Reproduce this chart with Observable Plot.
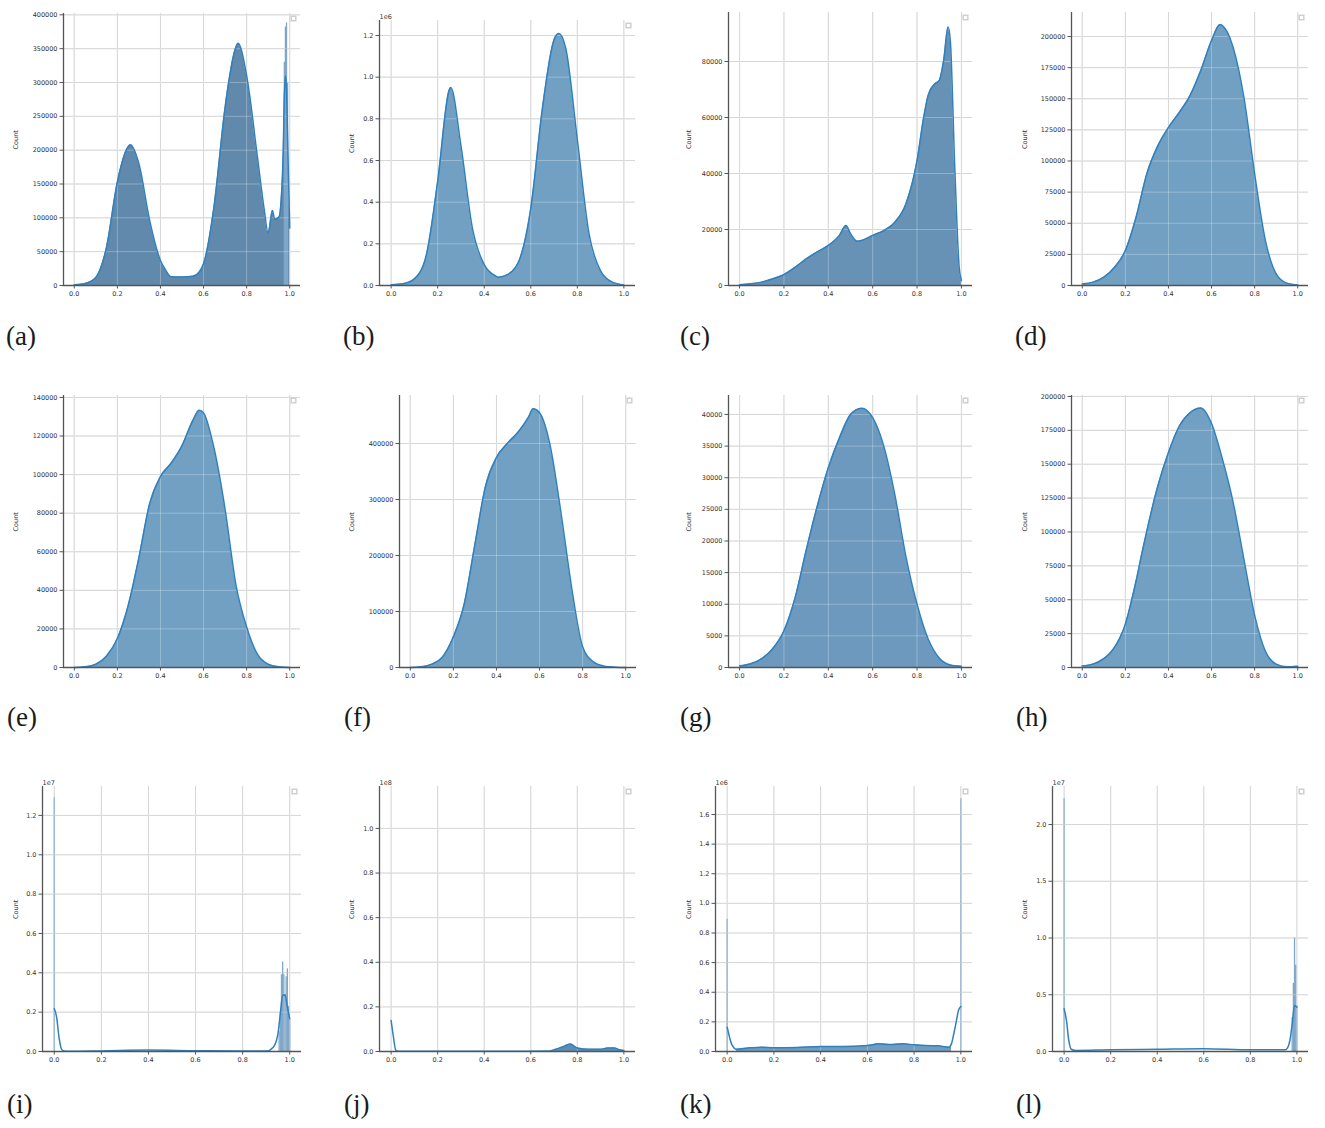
<!DOCTYPE html>
<html><head><meta charset="utf-8">
<script src="https://cdn.jsdelivr.net/npm/d3@7"></script>
<script src="https://cdn.jsdelivr.net/npm/@observablehq/plot@0.6"></script>
<style>
body{margin:0;background:#fff;}
#root{position:relative;width:1325px;height:1128px;overflow:hidden;background:#fff;}
.panel{position:absolute;}
.lab{position:absolute;font-family:"Liberation Serif","DejaVu Serif",serif;font-size:27px;line-height:27px;color:#1a1a1a;white-space:nowrap;}
</style></head><body><div id="root"></div>
<script>
// ---- shared x tick labels ----
const xTicks = [0, 0.2, 0.4, 0.6, 0.8, 1.0];

// ---- (a) ----
const aX = [0, 0.05, 0.1, 0.15, 0.2, 0.25, 0.26, 0.3, 0.35, 0.4, 0.42, 0.45, 0.5, 0.55, 0.58, 0.6, 0.65, 0.7, 0.75, 0.76, 0.8, 0.85, 0.88, 0.9, 0.92, 0.93, 0.95, 0.96, 0.97, 0.975, 0.98, 0.985, 0.99, 0.995, 1.0];
const aY = [1000, 3000, 12000, 57000, 153000, 205000, 208000, 180000, 96000, 37000, 25000, 13000, 12500, 13500, 20000, 32000, 120000, 263000, 352000, 358000, 310000, 190000, 116000, 78000, 111000, 98000, 101000, 125000, 200000, 280000, 310000, 290000, 220000, 150000, 85000];
const aSpikeX = [0.975, 0.98, 0.985, 0.99];
const aSpikeY = [330000, 382000, 388000, 300000];
const aTicks = [0, 50000, 100000, 150000, 200000, 250000, 300000, 350000, 400000];

// ---- (b) ----
const bX = [0, 0.05, 0.1, 0.15, 0.2, 0.25, 0.256, 0.3, 0.35, 0.4, 0.45, 0.46, 0.5, 0.55, 0.6, 0.65, 0.7, 0.72, 0.75, 0.8, 0.85, 0.9, 0.95, 1.0];
const bY = [3000, 8000, 32000, 140000, 500000, 940000, 950000, 670000, 270000, 100000, 45000, 40000, 52000, 120000, 370000, 850000, 1180000, 1210000, 1140000, 700000, 250000, 70000, 16000, 3000];
const bTicks = [0, 200000, 400000, 600000, 800000, 1000000, 1200000];

// ---- (c) ----
const cX = [0, 0.05, 0.1, 0.15, 0.2, 0.25, 0.3, 0.35, 0.4, 0.45, 0.48, 0.5, 0.53, 0.55, 0.6, 0.65, 0.7, 0.75, 0.8, 0.83, 0.85, 0.88, 0.9, 0.92, 0.94, 0.95, 0.97, 0.99, 1.0];
const cY = [300, 600, 1200, 2400, 3900, 6500, 9500, 12000, 14300, 17900, 21400, 18500, 15800, 16100, 17900, 19600, 22600, 29200, 44600, 60100, 67900, 72000, 73200, 80400, 92300, 87500, 42300, 6500, 1800];
const cTicks = [0, 20000, 40000, 60000, 80000];

// ---- (d) ----
const dX = [0, 0.05, 0.1, 0.15, 0.2, 0.25, 0.3, 0.35, 0.4, 0.45, 0.5, 0.55, 0.6, 0.64, 0.65, 0.7, 0.75, 0.8, 0.85, 0.9, 0.95, 1.0];
const dY = [1300, 2700, 6700, 14700, 28100, 55000, 90000, 112000, 127000, 139000, 152600, 172700, 196800, 209600, 208800, 191400, 151300, 89700, 36100, 9400, 1900, 500];
const dTicks = [0, 25000, 50000, 75000, 100000, 125000, 150000, 175000, 200000];

// ---- (e) ----
const eX = [0, 0.05, 0.1, 0.15, 0.2, 0.25, 0.3, 0.35, 0.4, 0.45, 0.5, 0.55, 0.58, 0.6, 0.65, 0.7, 0.75, 0.8, 0.85, 0.9, 0.95, 1.0];
const eY = [0, 350, 1700, 6000, 15000, 32000, 57000, 85000, 99000, 106000, 115000, 128000, 133400, 132000, 113000, 82000, 43000, 21000, 6900, 1700, 350, 0];
const eTicks = [0, 20000, 40000, 60000, 80000, 100000, 120000, 140000];

// ---- (f) ----
const fX = [0, 0.05, 0.1, 0.15, 0.2, 0.25, 0.3, 0.35, 0.4, 0.45, 0.5, 0.55, 0.57, 0.6, 0.65, 0.7, 0.75, 0.8, 0.85, 0.9, 0.95, 1.0];
const fY = [0, 1200, 6000, 19000, 54800, 113000, 220000, 325000, 375000, 400000, 420000, 448000, 462000, 455000, 395000, 275000, 140000, 37000, 10000, 2400, 600, 0];
const fTicks = [0, 100000, 200000, 300000, 400000];

// ---- (g) ----
const gX = [0, 0.05, 0.1, 0.15, 0.2, 0.25, 0.3, 0.35, 0.4, 0.45, 0.5, 0.55, 0.6, 0.65, 0.7, 0.75, 0.8, 0.85, 0.9, 0.95, 1.0];
const gY = [260, 600, 1400, 3000, 5800, 11000, 18500, 25500, 31600, 36300, 40000, 41000, 39500, 35000, 27300, 17500, 10000, 4500, 1500, 400, 200];
const gTicks = [0, 5000, 10000, 15000, 20000, 25000, 30000, 35000, 40000];

// ---- (h) ----
const hX = [0, 0.05, 0.1, 0.125, 0.15, 0.175, 0.2, 0.225, 0.25, 0.275, 0.3, 0.35, 0.4, 0.45, 0.5, 0.55, 0.6, 0.65, 0.7, 0.75, 0.8, 0.85, 0.9, 0.95, 1.0];
const hY = [1200, 2500, 6600, 10000, 15000, 22000, 32000, 47000, 64000, 83000, 101000, 133500, 158600, 178000, 188000, 191500, 180000, 154000, 122000, 80000, 38500, 12000, 2500, 600, 1000];
const hTicks = [0, 25000, 50000, 75000, 100000, 125000, 150000, 175000, 200000];

// ---- (i) ----
const iX = [0, 0.01, 0.02, 0.03, 0.04, 0.06, 0.2, 0.4, 0.6, 0.8, 0.9, 0.93, 0.95, 0.96, 0.97, 0.98, 0.99, 1.0];
const iY = [2170000, 1750000, 730000, 140000, 20000, 10000, 30000, 70000, 40000, 20000, 20000, 220000, 900000, 1920000, 2850000, 2880000, 2250000, 1660000];
const iSpikeX = [0, 0.955, 0.96, 0.965, 0.97, 0.975, 0.98, 0.985, 0.99, 0.995, 1.0];
const iSpikeY = [12900000, 1000000, 2000000, 3900000, 4550000, 3900000, 2900000, 3800000, 4200000, 2300000, 1600000];
const iTicks = [0, 2000000, 4000000, 6000000, 8000000, 10000000, 12000000];

// ---- (j) ----
const jX = [0, 0.01, 0.02, 0.03, 0.1, 0.3, 0.5, 0.68, 0.7, 0.74, 0.77, 0.8, 0.85, 0.9, 0.93, 0.96, 0.98, 1.0];
const jY = [13900000, 6400000, 450000, 100000, 150000, 150000, 150000, 200000, 750000, 2200000, 3400000, 1600000, 1000000, 1000000, 1600000, 1600000, 750000, 450000];
const jTicks = [0, 20000000, 40000000, 60000000, 80000000, 100000000];

// ---- (k) ----
const kX = [0, 0.01, 0.02, 0.04, 0.1, 0.15, 0.2, 0.3, 0.4, 0.5, 0.6, 0.65, 0.7, 0.75, 0.8, 0.85, 0.9, 0.95, 0.96, 0.97, 0.98, 0.99, 1.0];
const kY = [164000, 97000, 47000, 16000, 25000, 29000, 25000, 27000, 34000, 34000, 40000, 52000, 47000, 52000, 45000, 40000, 38000, 29000, 52000, 120000, 198000, 277000, 304000];
const kSpikeX = [0, 1.0];
const kSpikeY = [892000, 1707000];
const kTicks = [0, 200000, 400000, 600000, 800000, 1000000, 1200000, 1400000, 1600000];

// ---- (l) ----
const lX = [0, 0.01, 0.02, 0.03, 0.05, 0.2, 0.4, 0.6, 0.8, 0.95, 0.96, 0.97, 0.98, 0.99, 1.0];
const lY = [3760000, 2740000, 970000, 200000, 90000, 150000, 200000, 250000, 150000, 150000, 320000, 970000, 2440000, 4060000, 3900000];
const lSpikeX = [0, 0.98, 0.985, 0.99, 0.995, 1.0];
const lSpikeY = [22300000, 3000000, 6000000, 10000000, 7600000, 4000000];
const lTicks = [0, 5000000, 10000000, 15000000, 20000000];

const panelLabels = ["(a)","(b)","(c)","(d)","(e)","(f)","(g)","(h)","(i)","(j)","(k)","(l)"];

// layout (frame left, right, top, bottom in page px)
const panels = [
  {X:aX, Y:aY, sX:aSpikeX, sY:aSpikeY, ticks:aTicks, ymax:402000, div:1, off:null, frame:[63,300,13,285], cdx:-48, fill:"#6189ab", lab:[6,345]},
  {X:bX, Y:bY, ticks:bTicks, ymax:1272000, div:1e6, off:"1e6", frame:[379,635,20,285], cdx:-28, fill:"#71a0c3", lab:[343,345]},
  {X:cX, Y:cY, ticks:cTicks, ymax:97500, div:1, off:null, frame:[728,972,12,285], cdx:-40, fill:"#6892b5", lab:[680,345]},
  {X:dX, Y:dY, ticks:dTicks, ymax:219300, div:1, off:null, frame:[1071,1308,12,285], cdx:-47, fill:"#71a0c3", lab:[1015,345]},
  {X:eX, Y:eY, ticks:eTicks, ymax:141000, div:1, off:null, frame:[63,300,395,667], cdx:-48, fill:"#71a0c3", lab:[7,726]},
  {X:fX, Y:fY, ticks:fTicks, ymax:485700, div:1, off:null, frame:[399,636,395,667], cdx:-48, fill:"#71a0c3", lab:[344,726]},
  {X:gX, Y:gY, ticks:gTicks, ymax:43000, div:1, off:null, frame:[728,972,395,667], cdx:-40, fill:"#6c99bd", lab:[680,726]},
  {X:hX, Y:hY, ticks:hTicks, ymax:200700, div:1, off:null, frame:[1071,1308,395,667], cdx:-47, fill:"#71a0c3", lab:[1016,726]},
  {X:iX, Y:iY, sX:iSpikeX, sY:iSpikeY, ticks:iTicks, ymax:13470000, div:1e7, off:"1e7", frame:[42,301,786,1051], cdx:-27, fill:null, lab:[7,1113]},
  {X:jX, Y:jY, ticks:jTicks, ymax:118800000, div:1e8, off:"1e8", frame:[379,635,786,1051], cdx:-28, fill:"#5e8db3", fillFrom:0.69, lab:[344,1113]},
  {X:kX, Y:kY, sX:kSpikeX, sY:kSpikeY, ticks:kTicks, ymax:1789000, div:1e6, off:"1e6", frame:[715,972,786,1051], cdx:-27, fill:"#6f9cc0", fillFrom:0.04, fillTo:0.96, lab:[680,1113]},
  {X:lX, Y:lY, sX:lSpikeX, sY:lSpikeY, ticks:lTicks, ymax:23350000, div:1e7, off:"1e7", frame:[1052,1308,786,1051], cdx:-28, fill:null, lab:[1016,1113]}
];

const root = document.getElementById("root");
const mL = 60, mR = 10, mT = 20, mB = 25;

panels.forEach((p, idx) => {
  const [fl, fr, ft, fb] = p.frame;
  const data = p.X.map((x, i) => ({x, y: p.Y[i]}));
  const spikes = p.sX ? p.sX.map((x, i) => ({x, y: p.sY[i]})) : [];
  const lo = p.fillFrom ?? -1, hi = p.fillTo ?? 2;
  const fillData = p.fill ? data.filter(d => d.x >= lo && d.x <= hi) : [];
  const fmt = p.div === 1 ? (d => String(d)) : (d => (d / p.div).toFixed(1));
  const marks = [
    Plot.gridX(xTicks, {stroke: "#c8c8c8", strokeOpacity: 1, strokeWidth: 1}),
    Plot.gridY(p.ticks, {stroke: "#c8c8c8", strokeOpacity: 1, strokeWidth: 1}),
    Plot.areaY(fillData, {x: "x", y: "y", fill: p.fill || "none", curve: "monotone-x"}),
    Plot.ruleX(spikes, {x: "x", y1: 0, y2: "y", stroke: "#7fa7c9", strokeWidth: 1.3}),
    Plot.gridX(xTicks, {stroke: "#ffffff", strokeOpacity: 0.28, strokeWidth: 1}),
    Plot.gridY(p.ticks, {stroke: "#ffffff", strokeOpacity: 0.28, strokeWidth: 1}),
    Plot.lineY(data, {x: "x", y: "y", stroke: "#3080bd", strokeWidth: 1.5, curve: "monotone-x"}),
    Plot.ruleX([-0.05], {stroke: "#555", strokeWidth: 1.3}),
    Plot.ruleY([0], {stroke: "#555", strokeWidth: 1.3}),
    Plot.axisX(xTicks, {tickFormat: d => d.toFixed(1), tickSize: 3.5, tickPadding: 2.5, stroke: "#555", fill: "#333", label: null}),
    Plot.axisY(p.ticks, {tickFormat: fmt, tickSize: 3.5, tickPadding: 2.5, stroke: "#555", fill: "#333", label: null}),
    Plot.text(["Count"], {text: d => d, frameAnchor: "left", dx: p.cdx, rotate: -90, fontSize: 6.5, fill: "#333"}),
    Plot.dot([0], {frameAnchor: "top-right", dx: -7, dy: 5, symbol: "square", r: 2.6, fill: "#fff", stroke: "#cfcfcf"})
  ];
  if (p.off) marks.push(Plot.text([p.off], {text: d => d, frameAnchor: "top-left", dy: -6, textAnchor: "start", fontSize: 6.5, fill: "#333"}));

  const chart = Plot.plot({
    width: fr - fl + mL + mR,
    height: fb - ft + mT + mB,
    marginLeft: mL, marginRight: mR, marginTop: mT, marginBottom: mB,
    x: {domain: [-0.05, 1.05], label: null},
    y: {domain: [0, p.ymax], label: null},
    style: {fontFamily: "DejaVu Sans, sans-serif", fontSize: "6.5px", color: "#333", background: "transparent", overflow: "visible"},
    marks
  });
  chart.classList.add("panel");
  chart.style.left = (fl - mL) + "px";
  chart.style.top = (ft - mT) + "px";
  root.appendChild(chart);

  const lab = document.createElement("div");
  lab.className = "lab";
  lab.textContent = panelLabels[idx];
  lab.style.left = p.lab[0] + "px";
  lab.style.top = (p.lab[1] - 22) + "px";
  root.appendChild(lab);
});
</script></body></html>
